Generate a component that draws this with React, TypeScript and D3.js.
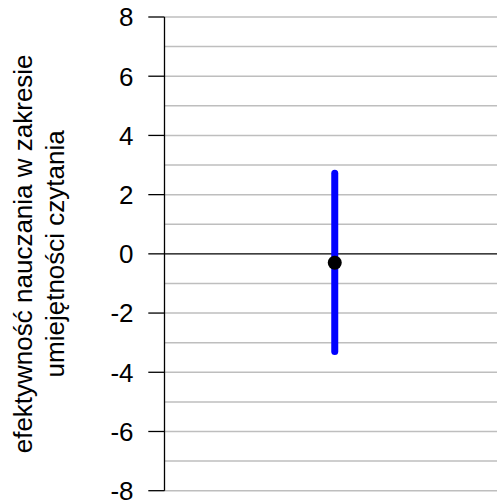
import React from "react";
import * as d3 from "d3";

const categories = ["A"];
const estimates = [-0.3];
const lower = [-3.3];
const upper = [2.72];
const yTicks = [-8, -6, -4, -2, 0, 2, 4, 6, 8];
const yGrid = [-8, -7, -6, -5, -4, -3, -2, -1, 1, 2, 3, 4, 5, 6, 7, 8];
const titleLines = ["efektywność nauczania w zakresie", "umiejętności czytania"];

const W = 497;
const H = 503;

export default function App() {
  const y = d3.scaleLinear().domain([-8, 8]).range([490.7, 17]);
  const x = d3.scaleLinear().domain([0.5, 1.5]).range([164.5, 505]);
  const axisX = 164.5;
  const font = "'Liberation Sans', Arial, sans-serif";
  return (
    <svg width={W} height={H} style={{ position: "absolute", left: 0, top: 0 }} fontFamily={font}>
      <rect width={W} height={H} fill="#fff" />
      {yGrid.map((v) => (
        <line key={v} x1={axisX} x2={W} y1={y(v)} y2={y(v)} stroke="#bebebe" strokeWidth={1.5} />
      ))}
      <line x1={axisX} x2={W} y1={y(0)} y2={y(0)} stroke="#000" strokeWidth={1.3} />
      <line x1={axisX} x2={axisX} y1={y(-8)} y2={y(8)} stroke="#000" strokeWidth={1.3} />
      {yTicks.map((v) => (
        <g key={v}>
          <line x1={148.3} x2={axisX} y1={y(v)} y2={y(v)} stroke="#000" strokeWidth={1.3} />
          <text x={133.5} y={y(v)} dy="0.36em" textAnchor="end" fontSize={26} fill="#000">
            {v}
          </text>
        </g>
      ))}
      {categories.map((c, i) => (
        <g key={c}>
          <line
            x1={x(i + 1)}
            x2={x(i + 1)}
            y1={y(lower[i])}
            y2={y(upper[i])}
            stroke="#0000ff"
            strokeWidth={7}
            strokeLinecap="round"
          />
          <circle cx={x(i + 1)} cy={y(estimates[i])} r={7} fill="#000" />
        </g>
      ))}
      {titleLines.map((t, i) => (
        <text
          key={i}
          transform={`translate(${31.7 + i * 32.3},${(17 + 490.7) / 2}) rotate(-90)`}
          textAnchor="middle"
          fontSize={26}
          fill="#000"
        >
          {t}
        </text>
      ))}
    </svg>
  );
}
